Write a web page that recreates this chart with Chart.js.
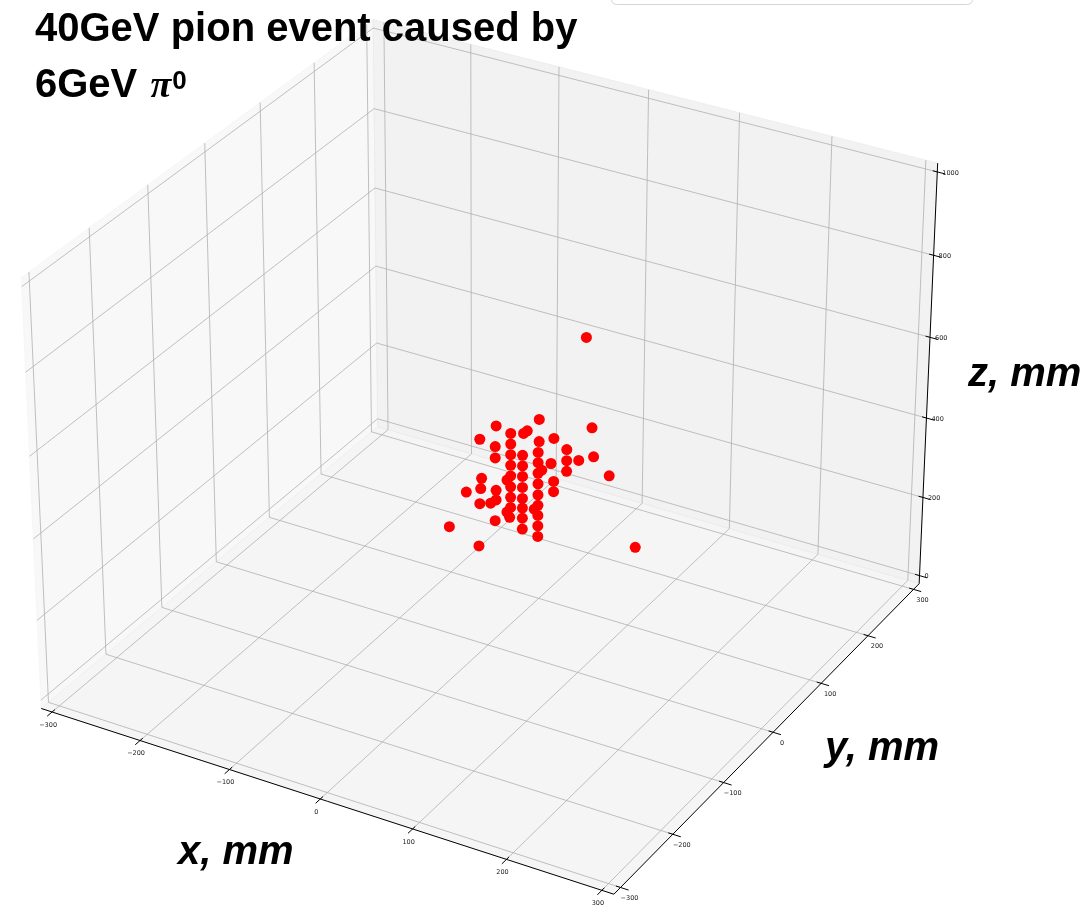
<!DOCTYPE html>
<html>
<head>
<meta charset="utf-8">
<script src="https://cdn.jsdelivr.net/npm/chart.js@4.4.1/dist/chart.umd.min.js"></script>
<style>
  html, body { margin: 0; padding: 0; background: #fff; }
  canvas { display: block; }
</style>
</head>
<body>
<canvas id="event3d" width="1084" height="910"></canvas>
<script>
// axis limits and ticks (mm)
const xLim = [-300, 300];
const yLim = [-300, 300];
const zLim = [0, 1000];
const xTicks = [-300, -200, -100, 0, 100, 200, 300];
const yTicks = [-300, -200, -100, 0, 100, 200, 300];
const zTicks = [0, 200, 400, 600, 800, 1000];

// calorimeter hits (mm)
const hitX = [106, 56, 9, 25, 39, 43, 113, -9, 56, 72, 8, 25, 86, 55, 8, 25, 38, 86, 99, 115,
  69, 55, 25, 38, 59, 55, 86, 132, 25, 38, 21, -7, 72, 55, 25, 38, -8, 9, -24, 72,
  55, 25, 38, 9, 3, -9, 55, 51, 25, 38, 21, 24, 55, 8, 38, 55, 38, 55, -43, -10, 161];
const hitY = [0, 0, 0, 0, 0, 0, 0, 0, 0, 0, 0, 0, 0, 0, 0, 0, 0, 0, 0, 0,
  0, 0, 0, 0, 0, 0, 0, 0, 0, 0, 0, 0, 0, 0, 0, 0, 0, 0, 0, 0,
  0, 0, 0, 0, 0, 0, 0, 0, 0, 0, 0, 0, 0, 0, 0, 0, 0, 0, 0, 0, 0];
const hitZ = [806, 578, 532, 524, 533, 542, 594, 488, 524, 542, 481, 498, 524, 497, 453, 472, 479, 497, 506, 525,
  479, 472, 446, 453, 456, 446, 471, 490, 420, 427, 407, 393, 437, 420, 393, 400, 367, 374, 348, 412,
  393, 367, 373, 350, 338, 329, 367, 355, 342, 349, 328, 317, 342, 298, 324, 316, 297, 290, 249, 223, 334];

// camera
const AZIM = -60, ELEV = 30, DIST = 17.5;
const BOX = [1, 1, 0.75];
// visible window in projected units
const VIEW_X = [-1.4703, 1.7997];
const VIEW_Y = [-1.4284, 1.3167];

function padLim(lim) {
  const d = (lim[1] - lim[0]) / 48;
  return [lim[0] - d, lim[1] + d];
}
const XB = padLim(xLim), YB = padLim(yLim), ZB = padLim(zLim);

const az = AZIM * Math.PI / 180, el = ELEV * Math.PI / 180;
const eyeDir = [Math.cos(el) * Math.cos(az), Math.cos(el) * Math.sin(az), Math.sin(el)];
const rightDir = [-Math.sin(az), Math.cos(az), 0];
const upDir = [-Math.sin(el) * Math.cos(az), -Math.sin(el) * Math.sin(az), Math.cos(el)];

function toBox(v, lim, half) {
  return ((v - lim[0]) / (lim[1] - lim[0]) * 2 - 1) * half;
}

function project(x, y, z) {
  const p = [toBox(x, XB, BOX[0]), toBox(y, YB, BOX[1]), toBox(z, ZB, BOX[2])];
  const dot = q => q[0] * p[0] + q[1] * p[1] + q[2] * p[2];
  const k = DIST / (DIST - dot(eyeDir));
  return { x: k * dot(rightDir), y: k * dot(upDir) };
}

const hits = hitX.map((x, i) => project(x, hitY[i], hitZ[i]));

const box3d = {
  id: "box3d",
  beforeDatasetsDraw(chart) {
    const ctx = chart.ctx;
    const sx = chart.scales.x, sy = chart.scales.y;
    const P = (x, y, z) => {
      const q = project(x, y, z);
      return [sx.getPixelForValue(q.x), sy.getPixelForValue(q.y)];
    };
    const poly = (pts) => {
      ctx.beginPath();
      pts.forEach((p, i) => i ? ctx.lineTo(p[0], p[1]) : ctx.moveTo(p[0], p[1]));
    };

    ctx.save();

    // panes
    const panes = [
      { c: "rgba(242,242,242,0.5)", pts: [P(XB[0], YB[0], ZB[0]), P(XB[0], YB[1], ZB[0]), P(XB[0], YB[1], ZB[1]), P(XB[0], YB[0], ZB[1])] },
      { c: "rgba(230,230,230,0.5)", pts: [P(XB[0], YB[1], ZB[0]), P(XB[1], YB[1], ZB[0]), P(XB[1], YB[1], ZB[1]), P(XB[0], YB[1], ZB[1])] },
      { c: "rgba(236,236,236,0.5)", pts: [P(XB[0], YB[0], ZB[0]), P(XB[1], YB[0], ZB[0]), P(XB[1], YB[1], ZB[0]), P(XB[0], YB[1], ZB[0])] }
    ];
    panes.forEach(pn => {
      poly(pn.pts);
      ctx.closePath();
      ctx.fillStyle = pn.c;
      ctx.fill();
      ctx.strokeStyle = pn.c;
      ctx.lineWidth = 1;
      ctx.stroke();
    });

    // grid
    ctx.strokeStyle = "#b0b0b0";
    ctx.lineWidth = 0.8;
    xTicks.forEach(t => {
      poly([P(t, YB[0], ZB[0]), P(t, YB[1], ZB[0]), P(t, YB[1], ZB[1])]);
      ctx.stroke();
    });
    yTicks.forEach(t => {
      poly([P(XB[1], t, ZB[0]), P(XB[0], t, ZB[0]), P(XB[0], t, ZB[1])]);
      ctx.stroke();
    });
    zTicks.forEach(t => {
      poly([P(XB[0], YB[0], t), P(XB[0], YB[1], t), P(XB[1], YB[1], t)]);
      ctx.stroke();
    });

    // axis lines
    ctx.strokeStyle = "#000";
    ctx.lineWidth = 1;
    poly([P(XB[0], YB[0], ZB[0]), P(XB[1], YB[0], ZB[0])]); ctx.stroke();
    poly([P(XB[1], YB[0], ZB[0]), P(XB[1], YB[1], ZB[0])]); ctx.stroke();
    poly([P(XB[1], YB[1], ZB[0]), P(XB[1], YB[1], ZB[1])]); ctx.stroke();

    // ticks and tick labels
    const xr = xLim[1] - xLim[0], yr = yLim[1] - yLim[0];
    const tin = 0.008, tout = 0.014;
    ctx.fillStyle = "#222";
    ctx.font = '6.5px "DejaVu Sans", sans-serif';
    ctx.textBaseline = "middle";
    const lab = v => (v < 0 ? "\u2212" + Math.abs(v) : String(v));

    xTicks.forEach(t => {
      poly([P(t, YB[0] + tin * yr, ZB[0]), P(t, YB[0] - tout * yr, ZB[0])]);
      ctx.stroke();
      const q = P(t, YB[0], ZB[0]);
      ctx.textAlign = "center";
      ctx.fillText(lab(t), q[0] - 4, q[1] + 13);
    });
    yTicks.forEach(t => {
      poly([P(XB[1] - tin * xr, t, ZB[0]), P(XB[1] + tout * xr, t, ZB[0])]);
      ctx.stroke();
      const q = P(XB[1], t, ZB[0]);
      ctx.textAlign = "center";
      ctx.fillText(lab(t), q[0] + 9, q[1] + 11);
    });
    zTicks.forEach(t => {
      poly([P(XB[1] - tin * xr, YB[1], t), P(XB[1] + tout * xr, YB[1], t)]);
      ctx.stroke();
      const q = P(XB[1], YB[1], t);
      ctx.textAlign = "left";
      ctx.fillText(lab(t), q[0] + 5, q[1] + 1);
    });

    ctx.restore();
  },
  afterDraw(chart) {
    const ctx = chart.ctx;
    ctx.save();

    // frame peeking in at the top edge
    ctx.beginPath();
    ctx.roundRect(611.5, -30.5, 361, 35, 5);
    ctx.fillStyle = "#fff";
    ctx.fill();
    ctx.strokeStyle = "#d5d5d5";
    ctx.lineWidth = 1;
    ctx.stroke();

    // title
    ctx.fillStyle = "#000";
    ctx.textAlign = "left";
    ctx.textBaseline = "alphabetic";
    ctx.font = 'bold 40px "Liberation Sans", Arial, sans-serif';
    ctx.fillText("40GeV pion event caused by", 35, 41);
    ctx.fillText("6GeV ", 35, 97);
    let x = 35 + ctx.measureText("6GeV ").width + 2;
    ctx.font = 'bold italic 38px "Liberation Serif", serif';
    ctx.fillText("\u03c0", x, 97);
    x += ctx.measureText("\u03c0").width + 1;
    ctx.font = 'bold 26px "Liberation Sans", Arial, sans-serif';
    ctx.fillText("0", x, 89);

    // axis labels
    ctx.font = 'bold italic 40px "Liberation Sans", Arial, sans-serif';
    ctx.fillText("x, mm", 178, 864);
    ctx.fillText("y, mm", 825, 760);
    ctx.fillText("z, mm", 968, 386);

    ctx.restore();
  }
};

new Chart(document.getElementById("event3d"), {
  type: "scatter",
  data: {
    datasets: [{
      data: hits,
      pointRadius: 5.5,
      pointHoverRadius: 5.5,
      backgroundColor: "#ff0000",
      borderWidth: 0
    }]
  },
  options: {
    responsive: false,
    animation: false,
    layout: { padding: 0 },
    plugins: { legend: { display: false }, tooltip: { enabled: false } },
    scales: {
      x: { type: "linear", display: false, min: VIEW_X[0], max: VIEW_X[1] },
      y: { type: "linear", display: false, min: VIEW_Y[0], max: VIEW_Y[1] }
    }
  },
  plugins: [box3d]
});
</script>
</body>
</html>
